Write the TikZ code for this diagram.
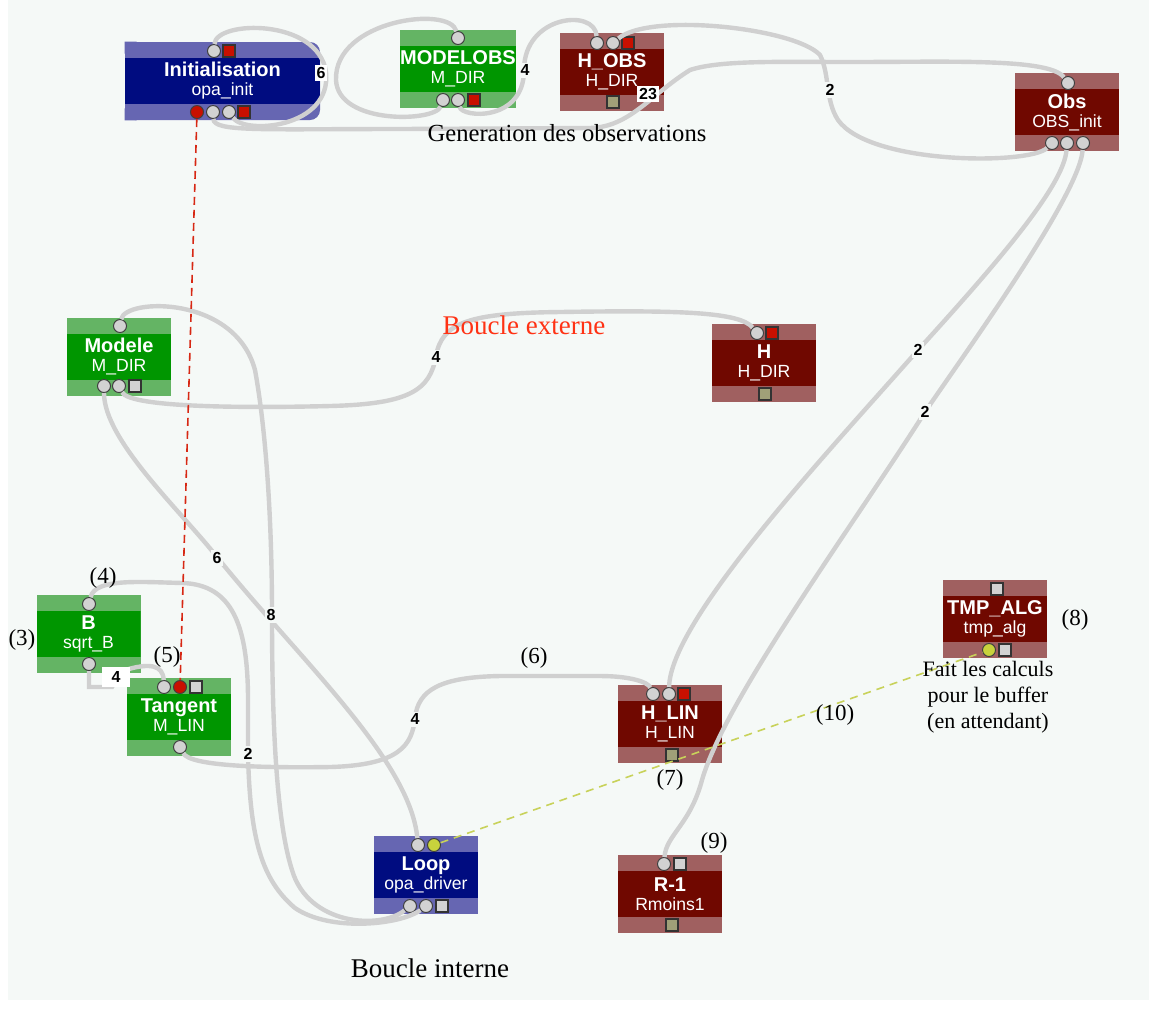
\documentclass[tikz,border=0pt]{standalone}
\usepackage{fontspec}
\setmainfont{Liberation Serif}
\setsansfont{Liberation Sans}

\definecolor{fond}{RGB}{245,249,247}
\definecolor{bandebleu}{RGB}{102,102,178}
\definecolor{coeurbleu}{RGB}{0,12,128}
\definecolor{bandevert}{RGB}{100,180,100}
\definecolor{coeurvert}{RGB}{0,150,0}
\definecolor{banderouge}{RGB}{160,96,96}
\definecolor{coeurrouge}{RGB}{112,8,0}
\definecolor{portgris}{RGB}{210,210,210}
\definecolor{portrouge}{RGB}{200,16,0}
\definecolor{portolive}{RGB}{160,160,120}
\definecolor{portjaune}{RGB}{200,210,60}
\definecolor{liengris}{RGB}{208,208,208}
\definecolor{tiretrouge}{RGB}{215,40,20}
\definecolor{tiretjaune}{RGB}{200,210,90}
\definecolor{texterouge}{RGB}{255,50,20}

\newcommand{\sous}[1]{{\fontsize{8.8}{9.5}\selectfont\mdseries #1}}

\tikzset{
  boite/.style={rectangle, inner sep=0pt, minimum width=52pt, minimum height=39pt,
    align=center, text=white, font=\sffamily\bfseries\fontsize{10}{9.5}\selectfont},
  bande/.style 2 args={fill=#1, path picture={\fill[#2, sharp corners]
    ([yshift=-8pt]path picture bounding box.north west) rectangle
    ([yshift=8pt]path picture bounding box.south east);}},
  bleu/.style={boite, bande={bandebleu}{coeurbleu}},
  vert/.style={boite, bande={bandevert}{coeurvert}},
  rouge/.style={boite, bande={banderouge}{coeurrouge}},
  pc/.style={circle, draw=black!75, line width=0.5pt, fill=portgris, inner sep=0pt, minimum size=6.5pt},
  pcr/.style={pc, fill=portrouge},
  pcj/.style={pc, fill=portjaune},
  ps/.style={rectangle, draw=black!80, line width=0.6pt, fill=portgris, inner sep=0pt, minimum size=6pt},
  psr/.style={ps, fill=portrouge},
  pso/.style={ps, fill=portolive},
  lien/.style={draw=liengris, line width=2.2pt},
  num/.style={font=\sffamily\bfseries\fontsize{8}{9}\selectfont, fill=fond, inner sep=1pt},
  numb/.style={num, fill=white},
  repere/.style={font=\fontsize{11.5}{12}\selectfont},
}

\begin{document}
\begin{tikzpicture}[x=0.5pt, y=-0.5pt]
\useasboundingbox (0,0) rectangle (1149,1009);
\fill[white] (0,0) rectangle (1149,1009);
\fill[fond] (8,0) rectangle (1149,1000);

% les blocs
\node[bleu, minimum width=97.5pt, rounded corners=5pt] (init) at (222.5,81) {Initialisation\\\sous{opa\_init}};
\fill[bandebleu] (init.north west) rectangle +(12,12) (init.south west) rectangle +(12,-12);
\node[vert, minimum width=55pt] (modelobs) at (458,69) {MODELOBS\\\sous{M\_DIR}};
\node[rouge] (hobs) at (612,71.5) {H\_OBS\\\sous{H\_DIR}};
\node[rouge] (obs) at (1067,112) {Obs\\\sous{OBS\_init}};
\node[vert] (modele) at (119,356.5) {Modele\\\sous{M\_DIR}};
\node[rouge] (h) at (764,362.5) {H\\\sous{H\_DIR}};
\node[vert] (b) at (88.5,634) {B\\\sous{sqrt\_B}};
\node[vert] (tangent) at (179,717) {Tangent\\\sous{M\_LIN}};
\node[bleu] (loop) at (426,875) {Loop\\\sous{opa\_driver}};
\node[rouge] (hlin) at (670,724) {H\_LIN\\\sous{H\_LIN}};
\node[rouge] (rmoins) at (670,894) {R-1\\\sous{Rmoins1}};
\node[rouge] (tmp) at (995,619) {TMP\_ALG\\\sous{tmp\_alg}};

% les ports
\node[pc] (init-t1) at (214,51) {};
\node[psr] (init-t2) at (229,51) {};
\node[pcr] (init-b1) at (197,112) {};
\node[pc] (init-b2) at (213,112) {};
\node[pc] (init-b3) at (229,112) {};
\node[psr] (init-b4) at (244,112) {};
\node[pc] (mo-t1) at (458,38) {};
\node[pc] (mo-b1) at (443,100) {};
\node[pc] (mo-b2) at (458,100) {};
\node[psr] (mo-b3) at (474,100) {};
\node[pc] (hobs-t1) at (597,43) {};
\node[pc] (hobs-t2) at (613,43) {};
\node[psr] (hobs-t3) at (628,43) {};
\node[pso] (hobs-b1) at (613,102) {};
\node[pc] (obs-t1) at (1068,83) {};
\node[pc] (obs-b1) at (1052,143) {};
\node[pc] (obs-b2) at (1067,143) {};
\node[pc] (obs-b3) at (1083,143) {};
\node[pc] (mod-t1) at (120,326) {};
\node[pc] (mod-b1) at (104,386) {};
\node[pc] (mod-b2) at (119,386) {};
\node[ps] (mod-b3) at (135,386) {};
\node[pc] (h-t1) at (757,333) {};
\node[psr] (h-t2) at (772,333) {};
\node[pso] (h-b1) at (765,394) {};
\node[pc] (b-t1) at (89,604) {};
\node[pc] (b-b1) at (89,664) {};
\node[pc] (tan-t1) at (164,687) {};
\node[pcr] (tan-t2) at (180,687) {};
\node[ps] (tan-t3) at (196,687) {};
\node[pc] (tan-b1) at (180,747) {};
\node[pc] (loop-t1) at (418,845) {};
\node[pcj] (loop-t2) at (434,845) {};
\node[pc] (loop-b1) at (410,906) {};
\node[pc] (loop-b2) at (426,906) {};
\node[ps] (loop-b3) at (442,906) {};
\node[pc] (hlin-t1) at (653,694) {};
\node[pc] (hlin-t2) at (669,694) {};
\node[psr] (hlin-t3) at (684,694) {};
\node[pso] (hlin-b1) at (672,755) {};
\node[pc] (r-t1) at (664,864) {};
\node[ps] (r-t2) at (680,864) {};
\node[pso] (r-b1) at (672,925) {};
\node[ps] (tmp-t1) at (997,589) {};
\node[pcj] (tmp-b1) at (989,650) {};
\node[ps] (tmp-b2) at (1005,650) {};

% generation des observations
\draw[lien] (init-t1) .. controls (216,20) and (318,18) .. (326,72) .. controls (332,128) and (245,135) .. (init-b3);
\draw[lien] (init-b2) .. controls (214,132) and (260,129) .. (400,129) -- (590,128) .. controls (630,127) and (650,95) .. (690,70)
  .. controls (720,60) and (780,62) .. (850,62) .. controls (950,62) and (1050,58) .. (obs-t1);
\draw[lien] (mo-b1) .. controls (435,122) and (338,125) .. (336,80) .. controls (334,20) and (450,5) .. (mo-t1);
\draw[lien] (mo-b2) .. controls (462,118) and (524,122) .. (524,70) .. controls (524,15) and (595,8) .. (hobs-t1);
\draw[lien] (obs-b1) .. controls (1030,165) and (870,165) .. (838,120) .. controls (825,100) and (830,75) .. (820,55)
  .. controls (795,28) and (650,12) .. (hobs-t2);

% boucle externe
\draw[lien] (mod-t1) .. controls (125,298) and (235,295) .. (255,370) .. controls (266,430) and (272,520) .. (272,615)
  .. controls (272,720) and (276,820) .. (292,870) .. controls (308,925) and (380,930) .. (loop-b1);
\draw[lien] (mod-b1) .. controls (104,440) and (180,510) .. (217,557) .. controls (300,660) and (410,760) .. (loop-t1);
\draw[lien] (mod-b2) .. controls (130,408) and (250,408) .. (330,406) .. controls (410,404) and (430,390) .. (436,356)
  .. controls (442,322) and (470,313) .. (560,312) .. controls (680,310) and (740,312) .. (h-t1);
\draw[lien] (obs-b2) .. controls (1064,185) and (1000,260) .. (918,350) .. controls (830,450) and (670,620) .. (hlin-t2);
\draw[lien] (obs-b3) .. controls (1080,195) and (960,360) .. (925,412) .. controls (850,530) and (725,700) .. (702,780)
  .. controls (690,825) and (666,835) .. (r-t1);

% boucle interne
\draw[lien] (b-t1) .. controls (95,578) and (140,582) .. (183,583) .. controls (232,585) and (248,625) .. (248,700)
  -- (248,754) .. controls (250,840) and (262,880) .. (295,908) .. controls (330,932) and (400,925) .. (loop-b2);
\draw[lien] (b-b1) |- (112,687) -- (122,671) .. controls (150,662) and (163,665) .. (tan-t1);
\draw[lien] (tan-b1) .. controls (190,766) and (260,768) .. (330,767) .. controls (400,765) and (412,745) .. (415,718)
  .. controls (418,690) and (440,677) .. (500,676) -- (600,676) .. controls (630,676) and (648,682) .. (hlin-t1);

% liens de controle
\draw[tiretrouge, dash pattern=on 4pt off 2.5pt, line width=0.8pt] (init-b1) -- (tan-t2);
\draw[tiretjaune, dash pattern=on 4pt off 3pt, line width=0.8pt] (loop-t2) -- (tmp-b1);

% nombres sur les liens
\node[numb] (n-init) at (321,73) {6};
\node[num] (n-mo) at (525,70) {4};
\node[numb] (n-hobs) at (648,94) {23};
\node[num] (n-obs) at (830,90) {2};
\node[num] (n-mod1) at (217,558) {6};
\node[num] (n-mod2) at (271,615) {8};
\node[num] (n-mod3) at (436,357) {4};
\node[num] (n-obs2) at (918,350) {2};
\node[num] (n-obs3) at (925,412) {2};
\node[num] (n-b1) at (248,754) {2};
\node[numb, minimum width=14pt, minimum height=10pt] (n-b2) at (116,677) {4};
\node[num] (n-tan) at (415,719) {4};

% textes
\node[font=\fontsize{12.3}{13}\selectfont] (t-gen) at (567,133) {Generation des observations};
\node[font=\fontsize{13.5}{14}\selectfont, text=texterouge] (t-ext) at (524,325) {Boucle externe};
\node[font=\fontsize{13.5}{14}\selectfont] (t-int) at (430,968) {Boucle interne};
\node[align=center, font=\fontsize{11}{13}\selectfont] (t-buf) at (988,697) {Fait les calculs\\pour le buffer\\(en attendant)};
\node[repere] (r3) at (22,640) {(3)};
\node[repere] (r4) at (103,578) {(4)};
\node[repere] (r5) at (167,657) {(5)};
\node[repere] (r6) at (534,658) {(6)};
\node[repere] (r7) at (670,780) {(7)};
\node[repere] (r8) at (1075,620) {(8)};
\node[repere] (r9) at (714,843) {(9)};
\node[repere] (r10) at (835,715) {(10)};
\end{tikzpicture}
\end{document}
